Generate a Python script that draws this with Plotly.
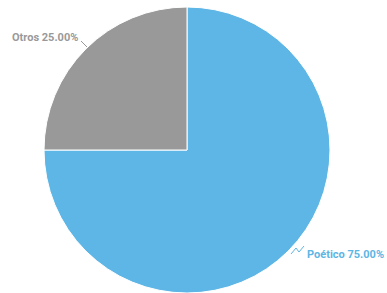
import plotly.graph_objects as go

labels = ["Poético", "Otros"]
values = [75, 25]
colors = ["#5DB6E5", "#999999"]

W, H = 387, 293

fig = go.Figure(go.Pie(
    labels=labels, values=values, sort=False, direction="clockwise", rotation=0,
    marker=dict(colors=colors, line=dict(color="#ffffff", width=1)),
    textinfo="none", hoverinfo="label+percent",
    domain=dict(x=[0, 374 / W], y=[0, 286 / H]),
    showlegend=False,
))

def px(x, y):
    return x / W, 1 - y / H

total = sum(values)
label_pos = {"Otros": (10, 38, "left"), "Poético": (386, 254, "right")}
for lab, val, col in zip(labels, values, colors):
    lx, ly, anc = label_pos[lab]
    x, y = px(lx, ly)
    fig.add_annotation(
        x=x, y=y, xref="paper", yref="paper", xanchor=anc, yanchor="middle",
        text=f"<b>{lab} {val / total * 100:.2f}%</b>", showarrow=False,
        font=dict(family="Roboto", size=11, color=col),
    )

def path(points):
    pts = [px(a, b) for a, b in points]
    return "M " + " L ".join(f"{a},{b}" for a, b in pts)

fig.add_shape(type="path", xref="paper", yref="paper",
              path=path([(81, 41), (87, 47)]), line=dict(color="#999999", width=1))
fig.add_shape(type="path", xref="paper", yref="paper",
              path=path([(291, 254), (296, 248), (299, 252), (304, 246)]),
              line=dict(color="#5DB6E5", width=1))

fig.update_layout(
    width=W, height=H, margin=dict(l=0, r=0, t=0, b=0),
    paper_bgcolor="white", plot_bgcolor="white",
)
fig.write_html(
    "out.html",
    config={"displayModeBar": False},
    post_script="document.body.style.margin='0';document.body.style.overflow='hidden';",
)
